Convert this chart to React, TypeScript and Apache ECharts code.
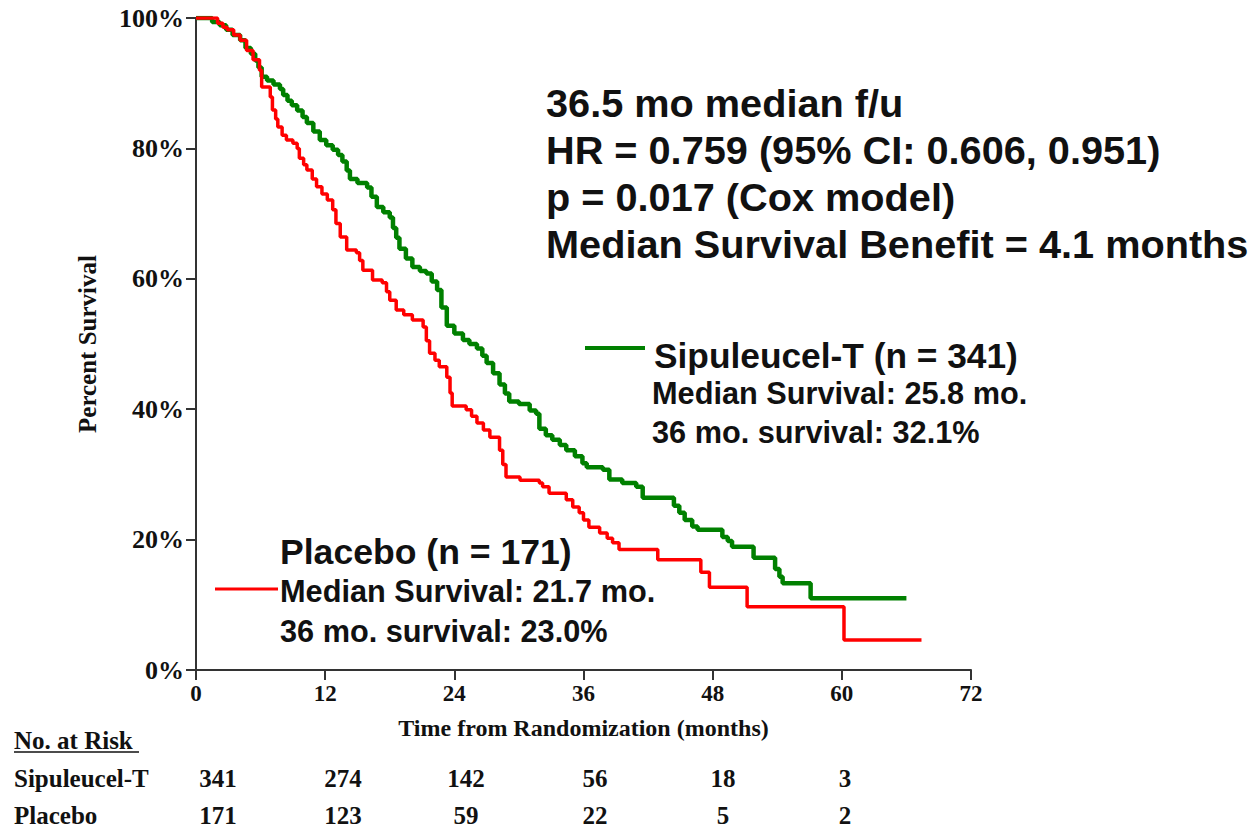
import React, { useEffect, useRef } from "react";
import * as echarts from "echarts";

// ---- data ----
const xTicks = [0, 12, 24, 36, 48, 60, 72];
const sipuleucelT: [number, number][] = [
  [0, 100], [1.5, 99.4], [2.2, 98.9], [2.8, 98.2], [3.4, 97.4], [4.1, 96.6], [4.6, 95.4], [5.1, 94.5],
  [5.5, 93.5], [5.8, 92.4], [6.1, 91.0], [6.6, 90.4], [7.2, 89.8], [7.8, 89.1], [8.1, 88.2], [8.5, 87.3],
  [8.9, 86.6], [9.4, 85.8], [9.9, 84.8], [10.3, 83.9], [10.9, 82.6], [11.5, 81.3], [12.1, 80.5], [12.7, 79.8],
  [13.2, 79.0], [13.6, 78.0], [14.0, 76.6], [14.3, 75.3], [15.0, 74.7], [15.9, 74.0], [16.3, 72.6], [16.8, 71.0],
  [17.4, 70.2], [18.0, 69.4], [18.3, 67.8], [18.6, 66.3], [18.9, 64.6], [19.5, 63.1], [20.1, 61.8], [20.8, 61.2],
  [21.4, 60.8], [21.9, 59.6], [22.4, 58.3], [22.8, 55.6], [23.3, 52.8], [24.0, 51.6], [24.8, 50.6], [25.4, 50.0],
  [26.1, 49.3], [26.6, 48.2], [27.0, 47.1], [27.6, 45.5], [28.2, 43.8], [28.7, 42.4], [29.1, 41.2], [30.0, 40.8],
  [31.0, 39.8], [31.6, 39.3], [31.9, 37.0], [32.5, 36.0], [33.1, 35.3], [33.8, 34.5], [34.4, 33.7], [35.2, 32.8],
  [35.9, 31.7], [36.3, 31.1], [37.8, 30.7], [38.4, 29.2], [39.6, 28.7], [40.9, 28.1], [41.5, 26.4], [44.4, 25.2],
  [44.9, 24.1], [45.4, 23.0], [46.1, 22.0], [46.6, 21.5], [48.9, 20.4], [49.4, 19.8], [49.8, 18.9], [51.8, 17.2],
  [53.8, 15.5], [54.2, 14.3], [54.5, 13.3], [57.1, 11.0], [66.0, 11.0],
];
const placebo: [number, number][] = [
  [0, 100], [2.0, 99.2], [2.5, 98.6], [2.9, 98.2], [3.5, 97.4], [4.1, 96.6], [4.7, 95.0], [5.3, 93.6],
  [5.9, 92.0], [6.1, 89.4], [6.9, 87.9], [7.1, 85.9], [7.4, 84.5], [7.6, 83.3], [8.0, 82.0], [8.4, 81.3],
  [9.0, 80.8], [9.4, 80.0], [9.6, 78.5], [10.0, 77.5], [10.3, 76.7], [10.8, 75.3], [11.2, 74.1], [11.7, 73.0],
  [12.2, 72.1], [12.7, 70.6], [13.0, 68.5], [13.4, 66.4], [14.0, 64.4], [14.9, 64.0], [15.2, 62.8], [15.5, 61.3],
  [16.4, 59.8], [17.3, 59.4], [17.7, 58.0], [18.0, 56.7], [18.6, 55.2], [19.3, 54.5], [20.1, 53.7], [21.1, 52.6],
  [21.4, 50.5], [21.7, 48.6], [22.2, 47.5], [22.6, 46.5], [23.3, 44.9], [23.6, 42.5], [23.8, 40.5], [25.1, 39.9],
  [25.6, 38.9], [26.1, 37.9], [26.7, 36.8], [27.3, 35.7], [28.2, 33.7], [28.5, 31.5], [28.8, 29.6], [30.1, 29.1],
  [31.9, 28.7], [32.2, 28.1], [32.8, 27.1], [34.4, 26.1], [35.0, 25.0], [35.6, 24.1], [36.0, 23.0], [36.5, 21.9],
  [37.5, 21.0], [38.2, 20.2], [38.7, 19.5], [39.3, 18.5], [42.9, 16.9], [46.9, 15.0], [47.7, 12.7], [51.2, 9.7],
  [60.2, 4.6], [67.4, 4.6],
];
const riskSipuleucel = [341, 274, 142, 56, 18, 3];
const riskPlacebo = [171, 123, 59, 22, 5, 2];
const statsLines = [
  "36.5 mo median f/u",
  "HR = 0.759 (95% CI: 0.606, 0.951)",
  "p = 0.017 (Cox model)",
  "Median Survival Benefit = 4.1 months",
];

// ---- layout ----
const GREEN = "#008000";
const RED = "#ff0000";
const INK = "#111111";
const SANS = "'Liberation Sans', Arial, sans-serif";
const SERIF = "'Liberation Serif', 'Times New Roman', serif";
const riskX = [218, 343, 466, 595, 723, 845];

export default function App() {
  const ref = useRef<HTMLDivElement>(null);
  useEffect(() => {
    if (!ref.current) return;
    const chart = echarts.init(ref.current, undefined, { renderer: "svg" });
    const graphic: any[] = [];
    statsLines.forEach((t, i) => {
      graphic.push({
        type: "text", x: 546, y: 103 + i * 47,
        style: { text: t, fill: INK, font: `bold 39.7px ${SANS}`, textVerticalAlign: "middle" },
      });
    });
    graphic.push({ type: "line", shape: { x1: 585, y1: 348, x2: 645, y2: 348 }, style: { stroke: GREEN, lineWidth: 4 } });
    graphic.push({ type: "text", x: 654, y: 355, style: { text: "Sipuleucel-T (n = 341)", fill: INK, font: `bold 35.3px ${SANS}`, textVerticalAlign: "middle" } });
    graphic.push({ type: "text", x: 652, y: 393, style: { text: "Median Survival: 25.8 mo.", fill: INK, font: `bold 30.7px ${SANS}`, textVerticalAlign: "middle" } });
    graphic.push({ type: "text", x: 652, y: 432, style: { text: "36 mo. survival: 32.1%", fill: INK, font: `bold 30.7px ${SANS}`, textVerticalAlign: "middle" } });
    graphic.push({ type: "text", x: 280, y: 552, style: { text: "Placebo (n = 171)", fill: INK, font: `bold 35.6px ${SANS}`, textVerticalAlign: "middle" } });
    graphic.push({ type: "line", shape: { x1: 215, y1: 589, x2: 278, y2: 589 }, style: { stroke: RED, lineWidth: 3 } });
    graphic.push({ type: "text", x: 280, y: 591, style: { text: "Median Survival: 21.7 mo.", fill: INK, font: `bold 30.7px ${SANS}`, textVerticalAlign: "middle" } });
    graphic.push({ type: "text", x: 280, y: 631, style: { text: "36 mo. survival: 23.0%", fill: INK, font: `bold 30.7px ${SANS}`, textVerticalAlign: "middle" } });
    // risk table
    const tf = `bold 25px ${SERIF}`;
    graphic.push({ type: "text", x: 14, y: 740, style: { text: "No. at Risk", fill: INK, font: tf, textVerticalAlign: "middle" } });
    graphic.push({ type: "line", shape: { x1: 14, y1: 752, x2: 139, y2: 752 }, style: { stroke: INK, lineWidth: 1.5 } });
    graphic.push({ type: "text", x: 14, y: 778, style: { text: "Sipuleucel-T", fill: INK, font: tf, textVerticalAlign: "middle" } });
    graphic.push({ type: "text", x: 14, y: 815, style: { text: "Placebo", fill: INK, font: tf, textVerticalAlign: "middle" } });
    riskSipuleucel.forEach((v, i) => {
      graphic.push({ type: "text", x: riskX[i], y: 778, style: { text: String(v), fill: INK, font: tf, textAlign: "center", textVerticalAlign: "middle" } });
    });
    riskPlacebo.forEach((v, i) => {
      graphic.push({ type: "text", x: riskX[i], y: 815, style: { text: String(v), fill: INK, font: tf, textAlign: "center", textVerticalAlign: "middle" } });
    });

    chart.setOption({
      animation: false,
      backgroundColor: "#ffffff",
      grid: { left: 196, right: 285, top: 18, bottom: 159, containLabel: false },
      xAxis: {
        type: "value", min: 0, max: 72, interval: 12,
        name: "Time from Randomization (months)", nameLocation: "middle", nameGap: 46,
        nameTextStyle: { color: INK, fontFamily: SERIF, fontWeight: "bold", fontSize: 24 },
        axisLine: { lineStyle: { color: "#333", width: 2 } },
        axisTick: { show: true, length: 10, lineStyle: { color: "#333", width: 2 } },
        axisLabel: { color: INK, fontFamily: SERIF, fontWeight: "bold", fontSize: 23, margin: 12, formatter: (v: number) => (xTicks.includes(v) ? String(v) : "") },
        splitLine: { show: false },
      },
      yAxis: {
        type: "value", min: 0, max: 100, interval: 20,
        name: "Percent Survival", nameLocation: "middle", nameGap: 96,
        nameTextStyle: { color: INK, fontFamily: SERIF, fontWeight: "bold", fontSize: 25 },
        axisLine: { show: true, lineStyle: { color: "#333", width: 2 } },
        axisTick: { show: true, length: 10, lineStyle: { color: "#333", width: 2 } },
        axisLabel: { color: INK, fontFamily: SERIF, fontWeight: "bold", fontSize: 26, margin: 12, formatter: "{value}%" },
        splitLine: { show: false },
      },
      series: [
        { name: "Sipuleucel-T", type: "line", step: "end", data: sipuleucelT, showSymbol: false, symbol: "none", lineStyle: { color: GREEN, width: 4.5 }, z: 2 },
        { name: "Placebo", type: "line", step: "end", data: placebo, showSymbol: false, symbol: "none", lineStyle: { color: RED, width: 3.5 }, z: 3 },
      ],
      graphic,
    });
    return () => chart.dispose();
  }, []);
  return <div ref={ref} style={{ position: "fixed", left: 0, top: 0, width: 1256, height: 829, background: "#fff" }} />;
}
